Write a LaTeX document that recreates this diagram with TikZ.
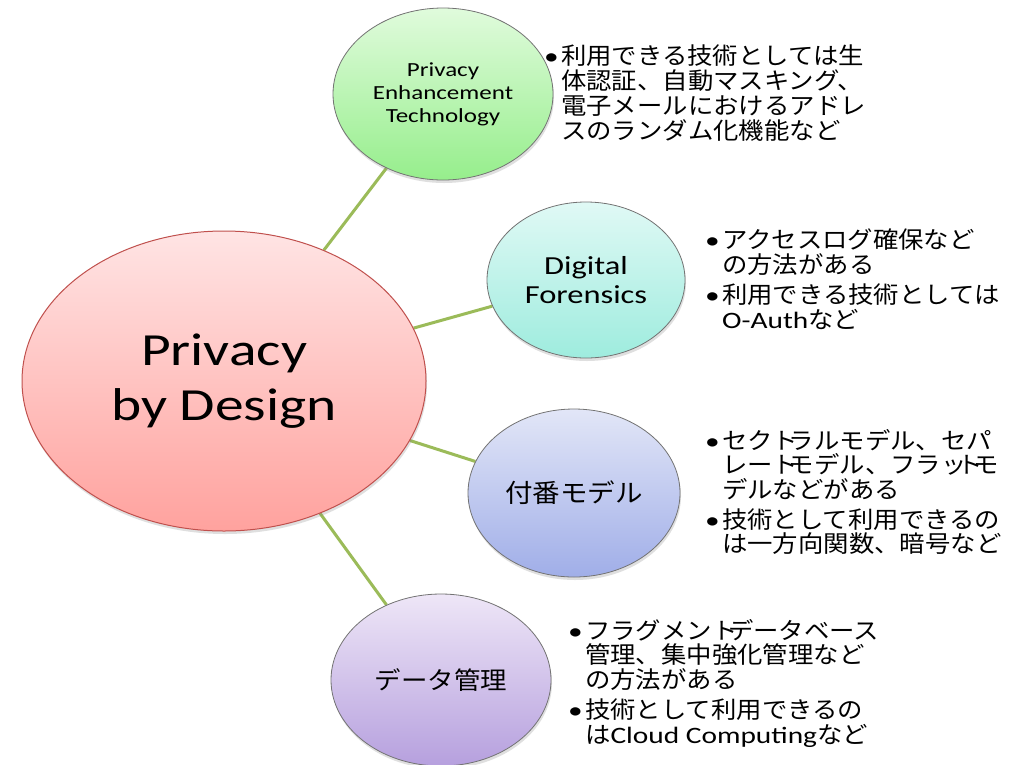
\documentclass[tikz,border=0pt]{standalone}
\usepackage{fontspec}
\setmainfont[FakeStretch=1.25]{Carlito}
\newfontfamily\latfont[FakeStretch=1.25]{Carlito}
\newfontfamily\jpfont[FakeStretch=1.08]{Noto Sans CJK JP}
\usetikzlibrary{shapes.geometric, positioning, backgrounds, shadows}

\definecolor{linkgreen}{RGB}{155,187,89}
\definecolor{hubedge}{RGB}{192,80,77}
\definecolor{hubtop}{RGB}{255,228,228}
\definecolor{hubbot}{RGB}{255,162,158}
\definecolor{pettop}{RGB}{224,251,220}
\definecolor{petbot}{RGB}{150,238,140}
\definecolor{fortop}{RGB}{224,249,245}
\definecolor{forbot}{RGB}{158,236,222}
\definecolor{numtop}{RGB}{226,230,247}
\definecolor{numbot}{RGB}{160,174,232}
\definecolor{dattop}{RGB}{238,230,247}
\definecolor{datbot}{RGB}{182,160,222}

% bullet with hanging lines
\newcommand{\bulletitem}[1]{\makebox[17pt][l]{\latfont\textbullet}\parbox[t]{340pt}{#1}}
% narrow kana (closes up the next character)
\newcommand{\tight}[1]{#1\kern-0.4em}

\begin{document}
\begin{tikzpicture}[
    x=1pt, y=-1pt,
    hub/.style={ellipse, draw=hubedge, line width=1pt, top color=hubtop, bottom color=hubbot, inner sep=0pt, align=center, minimum width=404pt, minimum height=300pt, font=\fontsize{46}{55}\selectfont, drop shadow={shadow xshift=1pt, shadow yshift=-3pt, opacity=0.25}},
    sat/.style={ellipse, draw=black!55, line width=0.8pt, inner sep=0pt, align=center, minimum width=220pt, minimum height=172pt, drop shadow={shadow xshift=1pt, shadow yshift=-3pt, opacity=0.25}},
    link/.style={draw=linkgreen, line width=3pt},
    note/.style={anchor=north west, inner sep=0pt, font=\jpfont\fontsize{23.5}{24.7}\selectfont}
]
\useasboundingbox (0,0) rectangle (1022,764);

% centre and satellites
\node[hub] (pbd) at (224,381) {Privacy\\by Design};
\node[sat, top color=pettop, bottom color=petbot, font=\fontsize{20}{23}\selectfont] (pet) at (443,94) {Privacy\\Enhancement\\Technology};
\node[sat, top color=fortop, bottom color=forbot, minimum width=198pt, minimum height=156pt, font=\fontsize{26}{29}\selectfont] (forensics) at (586,280) {Digital\\Forensics};
\node[sat, top color=numtop, bottom color=numbot, minimum width=212pt, minimum height=168pt, font=\jpfont\fontsize{25.5}{30}\selectfont] (numbering) at (574,493) {付番モデル};
\node[sat, top color=dattop, bottom color=datbot, font=\jpfont\fontsize{24.5}{30}\selectfont] (datamgmt) at (441,680) {データ管理};

% notes
\node[note] (petnote) at (544,45) {\bulletitem{利用できる技術としては生\\体認証、自動マスキング、\\電子メールにおけるアドレ\\スのランダム化機能など}};

\node[note] (fornote1) at (705,229) {\bulletitem{アクセスログ確保など\\の方法がある}};
\node[note, below=8pt of fornote1.south west, anchor=north west] (fornote2) {\bulletitem{利用できる技術としては\\{\latfont O-Auth}など}};

\node[note] (numnote1) at (705,429) {\bulletitem{セク\tight{ト}ラルモデル、セパ\\レー\tight{ト}モデル、フラ\tight{ッ}\tight{ト}モ\\デルなどがある}};
\node[note, below=8pt of numnote1.south west, anchor=north west] (numnote2) {\bulletitem{技術として利用できるの\\は一方向関数、暗号など}};

\node[note] (datnote1) at (568,619) {\bulletitem{フラグメン\tight{ト}データベース\\管理、集中強化管理など\\の方法がある}};
\node[note, below=8pt of datnote1.south west, anchor=north west] (datnote2) {\bulletitem{技術として利用できるの\\は{\latfont Cloud Computing}など}};

% links behind the ellipses
\begin{pgfonlayer}{background}
\fill[white] (0,0) rectangle (1022,764);
\draw[link] (pbd) -- (pet);
\draw[link] (pbd) -- (forensics);
\draw[link] (pbd) -- (numbering);
\draw[link] (pbd) -- (datamgmt);
\end{pgfonlayer}

\end{tikzpicture}
\end{document}
